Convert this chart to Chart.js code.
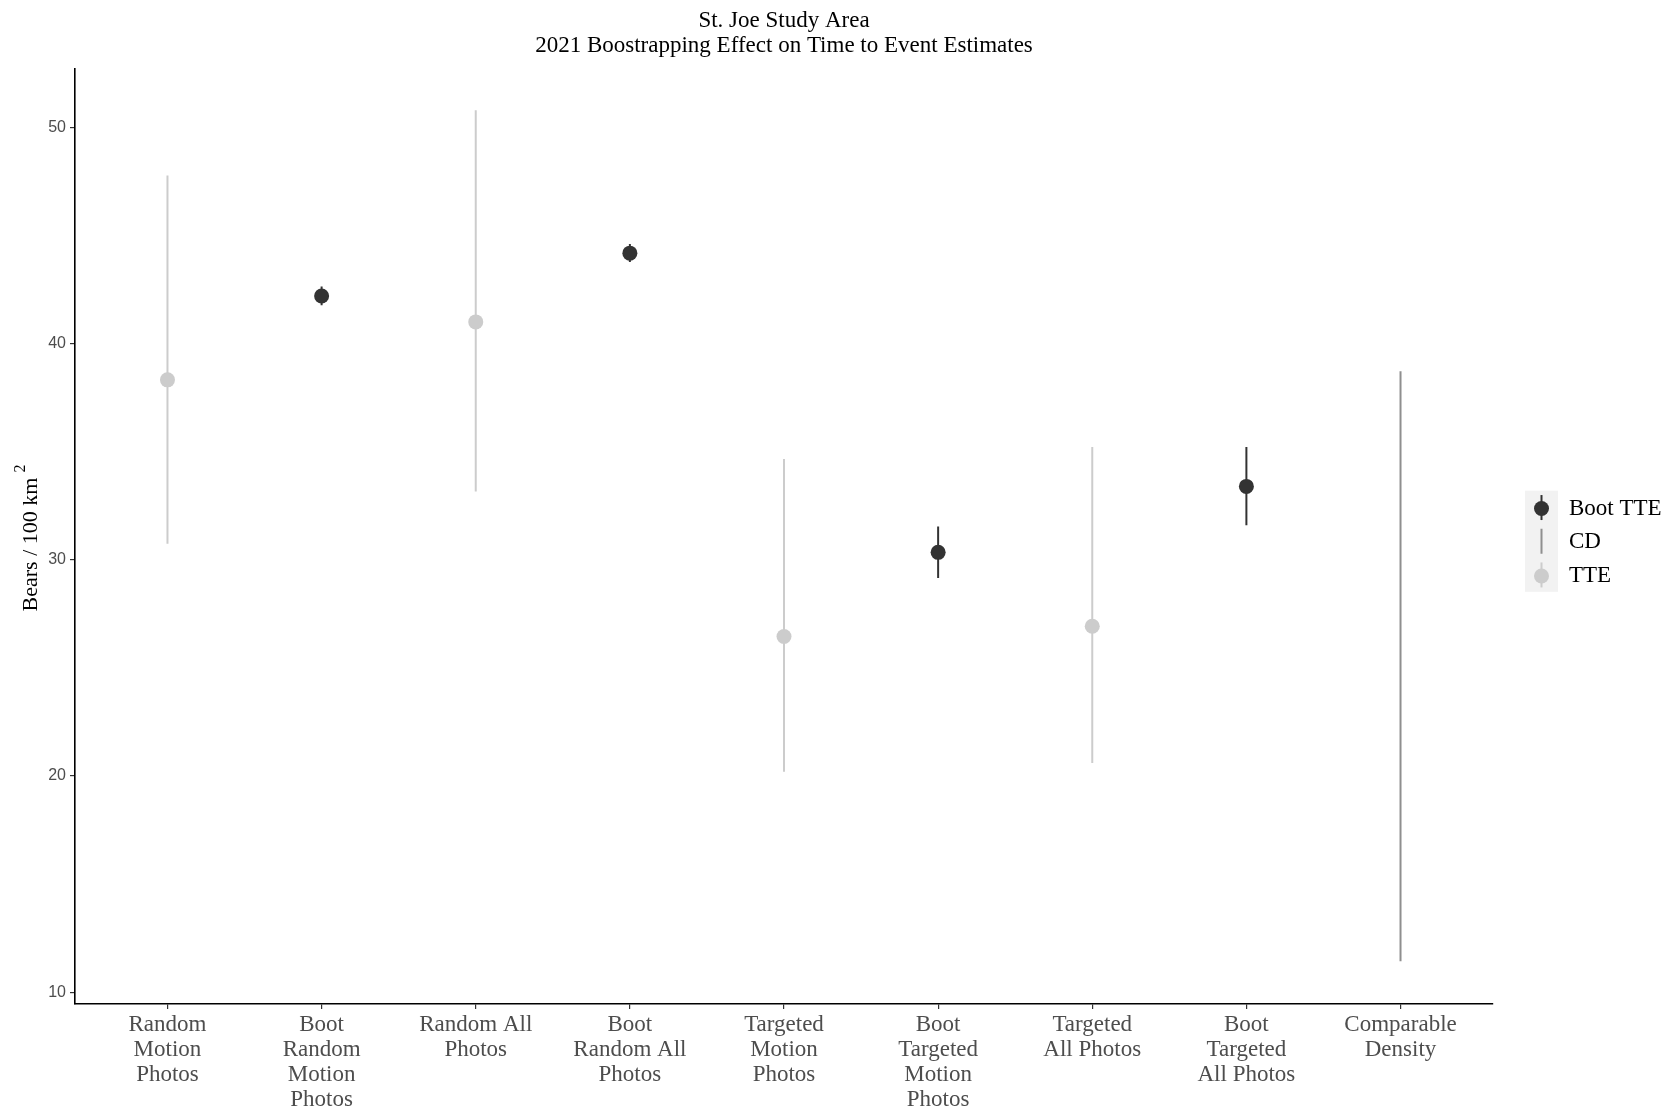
<!DOCTYPE html>
<html>
<head>
<meta charset="utf-8">
<title>St. Joe Study Area</title>
<script src="https://cdn.jsdelivr.net/npm/chart.js@4.4.1/dist/chart.umd.min.js"></script>
<style>
  html, body { margin: 0; padding: 0; background: #ffffff; }
  #wrap { width: 1679px; height: 1111px; position: relative; }
</style>
</head>
<body>
<div id="wrap"><canvas id="c"></canvas></div>
<script>
// Estimate categories (multi-line axis labels)
const categories = [
  ["Random", "Motion", "Photos"],
  ["Boot", "Random", "Motion", "Photos"],
  ["Random All", "Photos"],
  ["Boot", "Random All", "Photos"],
  ["Targeted", "Motion", "Photos"],
  ["Boot", "Targeted", "Motion", "Photos"],
  ["Targeted", "All Photos"],
  ["Boot", "Targeted", "All Photos"],
  ["Comparable", "Density"]
];
// Method group of each category
const groups = ["TTE", "Boot TTE", "TTE", "Boot TTE", "TTE", "Boot TTE", "TTE", "Boot TTE", "CD"];
// Density estimates (bears / 100 km²) and interval bounds
const estimates = [38.32, 42.2, 41.0, 44.18, 26.45, 30.34, 26.92, 33.39, null];
const lowerCI   = [30.74, 41.77, 33.16, 43.77, 20.19, 29.15, 20.6, 31.59, 11.43];
const upperCI   = [47.77, 42.64, 50.79, 44.6, 34.66, 31.54, 35.21, 35.21, 38.72];
const yTicks = [10, 20, 30, 40, 50];
const legendOrder = ["Boot TTE", "CD", "TTE"];
const titleLines = ["St. Joe Study Area", "2021 Boostrapping Effect on Time to Event Estimates"];
const yTitle = "Bears / 100 km";
const yTitleSup = "2";

const groupColor = { "Boot TTE": "#333333", "CD": "#8f8f8f", "TTE": "#cccccc" };
const serif = "'Liberation Serif', 'Times New Roman', serif";
const sans = "'Liberation Sans', Arial, sans-serif";
const POINT_R = 7.5;

// Vertical interval segments for one group, separated by gaps
function rangeData(group) {
  const pts = [];
  categories.forEach((c, i) => {
    if (groups[i] === group) {
      pts.push({ x: i + 1, y: lowerCI[i] }, { x: i + 1, y: upperCI[i] }, { x: i + 1, y: null });
    }
  });
  return pts;
}
function pointData(group) {
  const pts = [];
  categories.forEach((c, i) => {
    if (groups[i] === group && estimates[i] !== null) pts.push({ x: i + 1, y: estimates[i] });
  });
  return pts;
}
function rangeDataset(group, order) {
  return {
    label: group + " interval",
    data: rangeData(group),
    showLine: true,
    spanGaps: false,
    borderColor: groupColor[group],
    borderWidth: 2,
    borderCapStyle: "butt",
    pointRadius: 0,
    pointHoverRadius: 0,
    order: order
  };
}
function pointDataset(group, order) {
  return {
    label: group,
    data: pointData(group),
    showLine: false,
    pointRadius: POINT_R,
    pointHoverRadius: POINT_R,
    pointBorderWidth: 0,
    backgroundColor: groupColor[group],
    borderColor: groupColor[group],
    order: order
  };
}

// Title, rotated y title with superscript, and the key on the right
const decor = {
  id: "decor",
  afterDraw(chart) {
    const ctx = chart.ctx;
    const area = chart.chartArea;
    ctx.save();
    ctx.fillStyle = "#000000";
    ctx.font = "23px " + serif;
    ctx.textAlign = "center";
    ctx.textBaseline = "middle";
    const cx = (area.left + area.right) / 2;
    titleLines.forEach((t, k) => ctx.fillText(t, cx, 20.5 + k * 25.5));

    // y-axis title
    ctx.save();
    ctx.translate(29, 0);
    ctx.rotate(-Math.PI / 2);
    ctx.font = "22px " + serif;
    const wMain = ctx.measureText(yTitle).width;
    ctx.font = "16px " + serif;
    const wSup = ctx.measureText(yTitleSup).width;
    const gap = 5;
    const total = wMain + gap + wSup;
    const centerY = 538;
    const start = -(centerY + total / 2);
    ctx.textAlign = "left";
    ctx.textBaseline = "middle";
    ctx.font = "22px " + serif;
    ctx.fillText(yTitle, start, 2);
    ctx.font = "16px " + serif;
    ctx.fillText(yTitleSup, start + wMain + gap, -8);
    ctx.restore();

    // legend
    const keyX = 1525, keyW = 33, keyH = 33.7, keyTop = 490.7;
    ctx.fillStyle = "#f2f2f2";
    ctx.fillRect(keyX, keyTop, keyW, keyH * legendOrder.length);
    legendOrder.forEach((g, k) => {
      const cy = keyTop + keyH * k + keyH / 2;
      const mx = keyX + keyW / 2;
      ctx.strokeStyle = groupColor[g];
      ctx.lineWidth = 2;
      ctx.lineCap = "butt";
      ctx.beginPath();
      ctx.moveTo(mx, cy - 12.5);
      ctx.lineTo(mx, cy + 12.5);
      ctx.stroke();
      if (g !== "CD") {
        ctx.fillStyle = groupColor[g];
        ctx.beginPath();
        ctx.arc(mx, cy + 1, POINT_R, 0, Math.PI * 2);
        ctx.fill();
      }
      ctx.fillStyle = "#000000";
      ctx.font = "23px " + serif;
      ctx.textAlign = "left";
      ctx.textBaseline = "middle";
      ctx.fillText(g, 1569, cy + 1);
    });
    ctx.restore();
  }
};

new Chart(document.getElementById("c"), {
  type: "scatter",
  data: {
    datasets: [
      rangeDataset("TTE", 6),
      rangeDataset("CD", 5),
      rangeDataset("Boot TTE", 4),
      pointDataset("TTE", 2),
      pointDataset("Boot TTE", 1)
    ]
  },
  options: {
    responsive: true,
    maintainAspectRatio: false,
    animation: false,
    events: [],
    layout: { padding: { top: 68.5, right: 186, bottom: 0, left: 0 } },
    plugins: {
      legend: { display: false },
      title: { display: false },
      tooltip: { enabled: false }
    },
    scales: {
      x: {
        type: "linear",
        min: 0.4,
        max: 9.6,
        afterBuildTicks: (axis) => { axis.ticks = categories.map((c, i) => ({ value: i + 1 })); },
        afterFit: (axis) => { axis.height = 107; },
        ticks: {
          autoSkip: false,
          maxRotation: 0,
          minRotation: 0,
          padding: 3,
          color: "#4d4d4d",
          font: { family: serif, size: 23, lineHeight: 1.09 },
          callback: (v) => categories[Math.round(v) - 1]
        },
        grid: { display: true, drawOnChartArea: false, drawTicks: true, tickLength: 5, color: "#333333", lineWidth: 1.2 },
        border: { display: true, color: "#000000", width: 1.6 }
      },
      y: {
        type: "linear",
        min: 9.45,
        max: 52.72,
        afterBuildTicks: (axis) => { axis.ticks = yTicks.map((v) => ({ value: v })); },
        afterFit: (axis) => { axis.width = 75; },
        ticks: {
          padding: 4,
          color: "#4d4d4d",
          font: { family: sans, size: 16 }
        },
        grid: { display: true, drawOnChartArea: false, drawTicks: true, tickLength: 5, color: "#333333", lineWidth: 1.2 },
        border: { display: true, color: "#000000", width: 1.6 }
      }
    }
  },
  plugins: [decor]
});
</script>
</body>
</html>
